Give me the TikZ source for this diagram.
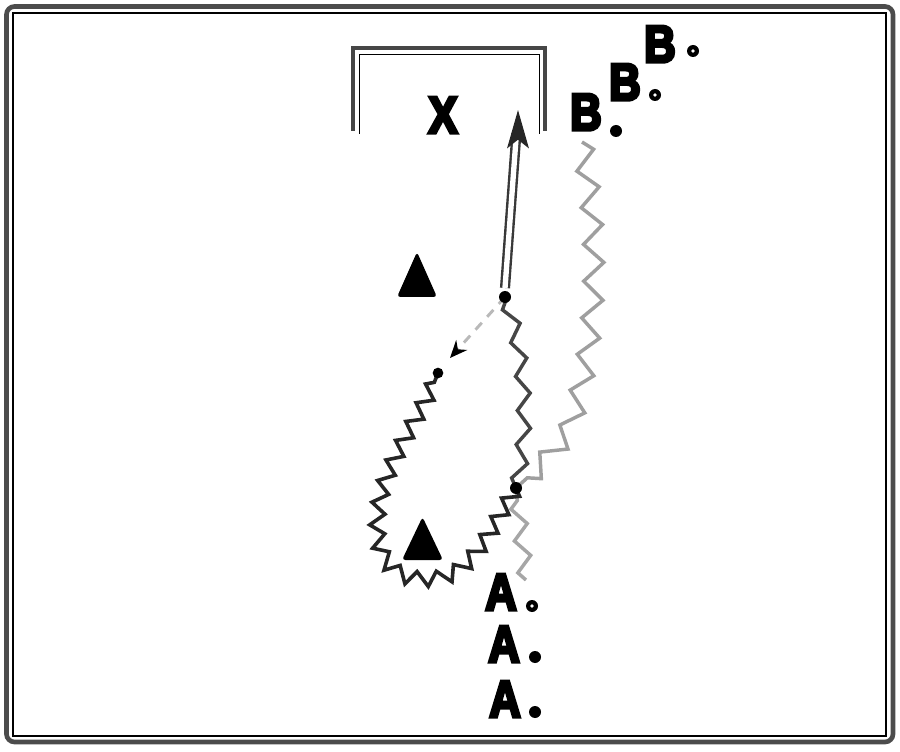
\documentclass[tikz,border=0pt]{standalone}
\usepackage{fontspec}
\setmainfont{Liberation Sans}
\newfontfamily\labfont[FakeBold=6.5]{Liberation Sans Bold}
\usetikzlibrary{decorations.pathmorphing,arrows.meta,calc}
\begin{document}
\begin{tikzpicture}[x=0.75pt,y=-0.75pt,
  lab/.style={font=\labfont\fontsize{39}{39}\selectfont, inner sep=0pt, anchor=base, xscale=0.84},
  fdot/.style={circle, fill=black, inner sep=0pt, minimum size=9pt},
  rdot/.style={circle, fill=black, inner sep=0pt, minimum size=9pt},
  hole/.style={circle, fill=white, inner sep=0pt, minimum size=2.8pt},
  jdot/.style={circle, fill=black, inner sep=0pt, minimum size=9pt},
  zigB/.style={draw=gray!75, line width=2.6pt, decorate, decoration={zigzag, segment length=28pt, amplitude=7.5pt}},
  zigA/.style={draw=gray!70, line width=2.6pt, decorate, decoration={zigzag, segment length=24pt, amplitude=5.5pt}},
  zigP/.style={draw=gray!55!black, line width=2.6pt, decorate, decoration={zigzag, segment length=26pt, amplitude=5pt}},
  zigL/.style={draw=black!85, line width=2.7pt, decorate, decoration={zigzag, segment length=16pt, amplitude=5.5pt}},
  pass/.style={draw=gray!55, dashed, dash pattern=on 7pt off 6pt, line width=2.2pt, -{Stealth[black,length=13pt,width=11pt]}},
  shot/.style={draw=gray!45!black, double=white, double distance=4pt, line width=1.8pt},
  tri/.style={fill=black, rounded corners=2.5pt}]
\useasboundingbox (0,0) rectangle (900,752);
% frame
\draw[draw=gray!60!black, line width=3.5pt, rounded corners=6pt] (6.5,6.5) rectangle (893,742);
\draw[black, line width=0.9pt] (13,13) rectangle (886,736);
% basket
\draw[draw=gray!55!black, line width=3pt] (353,131) -- (353,48) -- (545,48) -- (545,131);
\draw[black, line width=0.6pt] (359,134) -- (359,54) -- (539,54) -- (539,134);
% labels
\node[lab] (X) at (443,133) {X};
\node[lab] (B1) at (586,130) {B};
\node[lab] (B2) at (625,100) {B};
\node[lab] (B3) at (660,62) {B};
\node[lab] (A1) at (501,610) {A};
\node[lab] (A2) at (504,662) {A};
\node[lab] (A3) at (505,717) {A};
\node[fdot] (b1d) at (616,131) {};
\node[rdot] (b2d) at (655,95) {};
\node[hole] at (b2d) {};
\node[rdot] (b3d) at (693,51) {};
\node[hole] at (b3d) {};
\node[rdot] (a1d) at (532,606) {};
\node[hole] at (a1d) {};
\node[fdot] (a2d) at (535,657) {};
\node[fdot] (a3d) at (535,712) {};
% defenders
\fill[tri] (417,252) -- (437,297) -- (397,297) -- cycle;
\coordinate (D1) at (417,280);
\fill[tri] (422.5,517) -- (443,560) -- (402,560) -- cycle;
\coordinate (D2) at (422,545);
% key points
\coordinate (J) at (516,488);
\coordinate (P) at (505,297);
\coordinate (Bs) at (582,142);
\coordinate (Bm) at (572,420);
\coordinate (As) at (526,580);
\coordinate (Lb) at (425,579);
\coordinate (Ll) at (379,505);
\coordinate (Lend) at (438,373);
\coordinate (Pend) at (450,358);
\coordinate (Ps) at (505,288);
\coordinate (T) at (518,112);
% B dribble
\draw[zigB] (Bs) .. controls (600,235) and (598,340) .. (Bm) .. controls (560,450) and (538,468) .. (J);
% A dribble
\draw[zigA] (As) -- (J);
\draw[zigP] (J) .. controls (528,440) and (528,360) .. (P);
% loop dribble
\draw[zigL] (J) .. controls (482,545) and (468,580) .. (Lb) .. controls (385,580) and (372,545) .. (Ll) .. controls (386,460) and (425,410) .. (Lend);
% pass
\draw[pass] (P) -- (Pend);
% shot / double line
\draw[shot] (Ps) -- ($(Ps)!0.88!(T)$);
\draw[fill=gray!30!black, draw=gray!30!black, line width=0.8pt] (T) -- ++(-10,35) -- ++(10,-8) -- ++(10,8) -- cycle;
\node[jdot] (Jd) at (J) {};
\node[jdot] (Pd) at (P) {};
\node[circle, fill=black, inner sep=0pt, minimum size=8pt] (Ld) at (Lend) {};
\end{tikzpicture}
\end{document}
